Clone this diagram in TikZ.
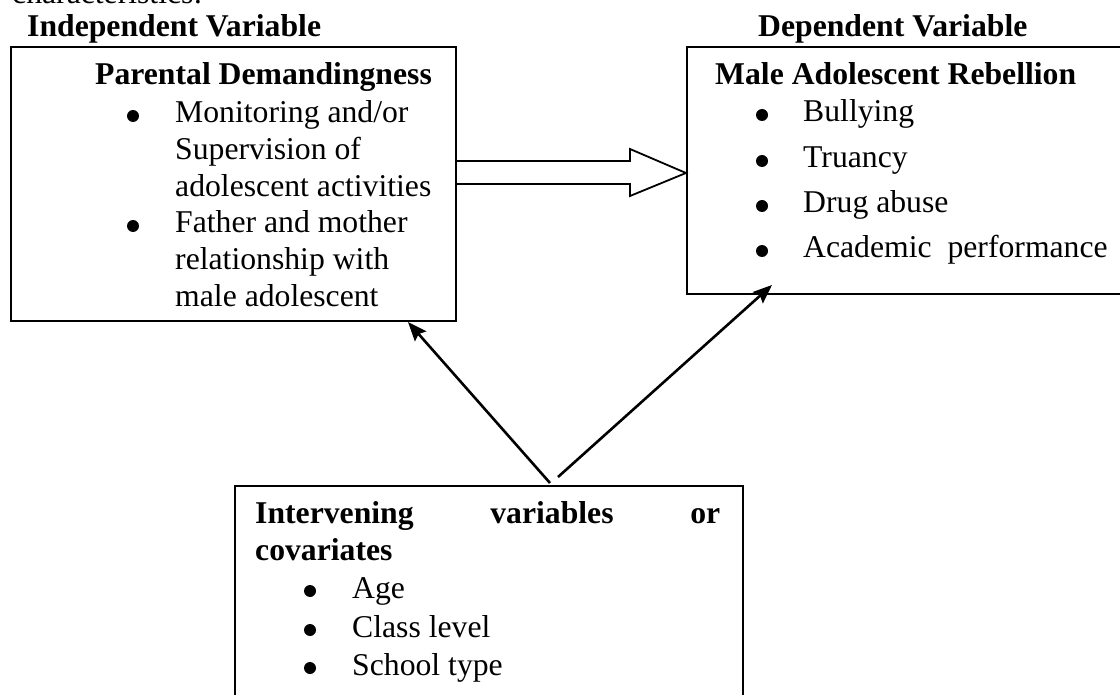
\documentclass[tikz,border=0pt]{standalone}
\usepackage{fontspec}
\setmainfont{Liberation Serif}
\usetikzlibrary{arrows.meta,calc}
\begin{document}
\begin{tikzpicture}[x=1pt,y=-1pt,
  box/.style={draw, line width=2pt, inner sep=0pt, anchor=north west},
  txt/.style={anchor=base west, inner sep=0pt, font=\fontsize{31.7}{37}\selectfont},
  hd/.style={anchor=base west, inner sep=0pt, font=\fontsize{31.7}{37}\selectfont\bfseries},
  bulletdot/.style={circle, fill=black, inner sep=0pt, minimum size=12pt},
  link/.style={line width=2.6pt, -{Stealth[length=19pt,width=15pt,inset=3pt]}},
  blockarrow/.style={draw, fill=white, line width=1.8pt, line join=miter}]
\useasboundingbox (0,0) rectangle (1120,695);
\clip (0,0) rectangle (1120,695);

% cut-off text at the top
\node[txt] (chr) at (12,4) {characteristics:};

% headings
\node[hd] (ivh) at (27,37) {Independent Variable};
\node[hd] (dvh) at (758,37) {Dependent Variable};

% boxes
\node[box, minimum width=445pt, minimum height=274pt] (pdbox) at (10,46) {};
\node[box, minimum width=460pt, minimum height=247pt] (marbox) at (686,46) {};
\node[box, minimum width=508pt, minimum height=240pt] (ivbox) at (234,485) {};

% left box text
\node[hd] (pdt) at (95,85) {Parental Demandingness};
\node[bulletdot] (pb1) at (133,116) {};
\node[txt] (pl1) at (175,123) {Monitoring and/or};
\node[txt] (pl2) at (175,160) {Supervision of};
\node[txt] (pl3) at (175,197) {adolescent activities};
\node[bulletdot] (pb2) at (133,226) {};
\node[txt] (pl4) at (175,233) {Father and mother};
\node[txt] (pl5) at (175,270) {relationship with};
\node[txt] (pl6) at (175,307) {male adolescent};

% right box text
\node[hd] (mart) at (715,85) {Male Adolescent Rebellion};
\node[bulletdot] (mb1) at (762,115) {};
\node[txt] (ml1) at (803,122) {Bullying};
\node[bulletdot] (mb2) at (762,161) {};
\node[txt] (ml2) at (803,168) {Truancy};
\node[bulletdot] (mb3) at (762,206) {};
\node[txt] (ml3) at (803,213) {Drug abuse};
\node[bulletdot] (mb4) at (762,251) {};
\node[txt] (ml4) at (803,258) {Academic\ \ performance};

% bottom box text
\node[hd] (ivt1) at (255,523) {\makebox[465pt][s]{Intervening variables or}};
\node[hd] (ivt2) at (255,560) {covariates};
\node[bulletdot] (ib1) at (310,591) {};
\node[txt] (il1) at (352,598) {Age};
\node[bulletdot] (ib2) at (310,630) {};
\node[txt] (il2) at (352,637) {Class level};
\node[bulletdot] (ib3) at (310,668) {};
\node[txt] (il3) at (352,675) {School type};

% block arrow from left box to right box
\draw[blockarrow] ($(pdbox.north east)+(0,115)$) -- ++(173,0) -- ++(0,-12)
  -- ($(marbox.north west)+(0,127)$) -- ($(pdbox.north east)+(173,150)$)
  -- ++(0,-12) -- ($(pdbox.north east)+(0,138)$);

% connectors from intervening variables
\coordinate (s1) at (550,483);
\coordinate (t1) at (408,322);
\coordinate (s2) at (558,477);
\coordinate (t2) at (772,285);
\draw[link] (s1) -- (t1);
\draw[link] (s2) -- (t2);
\end{tikzpicture}
\end{document}
